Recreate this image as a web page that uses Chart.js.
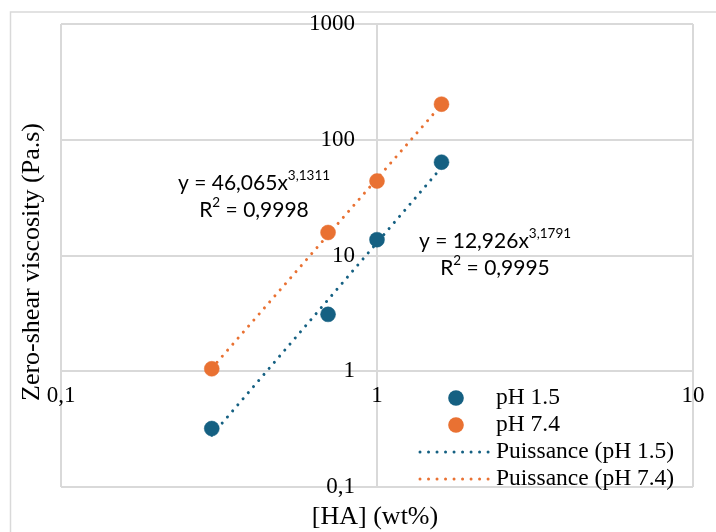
<!DOCTYPE html>
<html>
<head>
<meta charset="utf-8">
<script src="https://cdn.jsdelivr.net/npm/chart.js@4/dist/chart.umd.min.js"></script>
<style>
html, body { margin: 0; padding: 0; background: #ffffff; }
#wrap { width: 716px; height: 532px; position: relative; }
</style>
</head>
<body>
<div id="wrap"><canvas id="c" width="716" height="532"></canvas></div>
<script>
// ---- data ----
const concentrations = [0.3, 0.7, 1.0, 1.6];          // [HA] (wt%)
const viscosityPH15 = [0.32, 3.1, 13.7, 64];           // Pa.s
const viscosityPH74 = [1.05, 15.8, 44, 203];           // Pa.s
const trendX = [0.3, 1.6];                             // trend line end points (x)
const trendPH15 = [0.28, 57.6];                        // power fit pH 1.5 at those x
const trendPH74 = [1.06, 200.7];                       // power fit pH 7.4 at those x
const xTicks = [0.1, 1, 10];
const xTickLabels = ['0,1', '1', '10'];
const yTicks = [0.1, 1, 10, 100, 1000];
const yTickLabels = ['0,1', '1', '10', '100', '1000'];
const seriesNames = ['pH 1.5', 'pH 7.4', 'Puissance (pH 1.5)', 'Puissance (pH 7.4)'];
const xTitle = '[HA] (wt%)';
const yTitle = 'Zero-shear viscosity (Pa.s)';
const eqPH74 = [['y = 46,065x', '3,1311'], ['R', '2', ' = 0,9998']];
const eqPH15 = [['y = 12,926x', '3,1791'], ['R', '2', ' = 0,9995']];

const BLUE = '#156082';
const ORANGE = '#E97132';
const GRID = '#d9d9d9';
const SERIF = '"Liberation Serif", "Times New Roman", serif';
const SANS = 'Lato, "Open Sans", sans-serif';

const toPts = (xs, ys) => xs.map((x, i) => ({ x: x, y: ys[i] }));

const framePlugin = {
  id: 'frame',
  beforeDraw(chart) {
    const ctx = chart.ctx;
    ctx.save();
    ctx.fillStyle = '#ffffff';
    ctx.fillRect(0, 0, chart.width, chart.height);
    ctx.strokeStyle = GRID;
    ctx.lineWidth = 1.5;
    ctx.strokeRect(10.5, 12, 730, 540);
    ctx.restore();
  }
};

function drawRichLine(ctx, cx, cy, parts) {
  // parts alternate: normal, superscript, normal ...
  const fonts = parts.map((p, i) => (i % 2 === 0 ? '21px ' + SANS : '13.5px ' + SANS));
  let total = 0;
  const widths = parts.map((p, i) => { ctx.font = fonts[i]; const w = ctx.measureText(p).width; total += w; return w; });
  let x = cx - total / 2;
  parts.forEach((p, i) => {
    ctx.font = fonts[i];
    ctx.fillText(p, x, i % 2 === 0 ? cy : cy - 7);
    x += widths[i];
  });
}

const textPlugin = {
  id: 'texts',
  afterDraw(chart) {
    const ctx = chart.ctx;
    const sx = chart.scales.x;
    const sy = chart.scales.y;
    ctx.save();
    ctx.fillStyle = '#000000';
    ctx.textBaseline = 'middle';
    // y tick labels, placed through the y scale, left of the x = 1 axis
    ctx.font = '23px ' + SERIF;
    ctx.textAlign = 'right';
    const axisX = sx.getPixelForValue(1);
    yTicks.forEach((v, i) => ctx.fillText(yTickLabels[i], axisX - 22, sy.getPixelForValue(v)));
    ctx.textAlign = 'left';
    // equations
    drawRichLine(ctx, 254, 183, eqPH74[0]);
    drawRichLine(ctx, 254, 210, eqPH74[1]);
    drawRichLine(ctx, 495, 241, eqPH15[0]);
    drawRichLine(ctx, 495, 268, eqPH15[1]);
    // axis titles
    ctx.font = '26px ' + SERIF;
    ctx.textAlign = 'center';
    ctx.fillText(xTitle, 375, 517);
    ctx.save();
    ctx.translate(32, 262);
    ctx.rotate(-Math.PI / 2);
    ctx.fillText(yTitle, 0, 0);
    ctx.restore();
    // legend
    const rows = [398, 425, 452, 479];
    ctx.textAlign = 'left';
    chart.data.datasets.forEach((d, i) => {
      const y = rows[i];
      if (d.showLine) {
        ctx.save();
        ctx.strokeStyle = d.borderColor;
        ctx.lineWidth = 3;
        ctx.lineCap = 'round';
        ctx.setLineDash([0.01, 8.5]);
        ctx.beginPath();
        ctx.moveTo(420, y);
        ctx.lineTo(489, y);
        ctx.stroke();
        ctx.restore();
      } else {
        ctx.fillStyle = d.backgroundColor;
        ctx.beginPath();
        ctx.arc(456, y, 7.8, 0, Math.PI * 2);
        ctx.fill();
      }
      ctx.fillStyle = '#000000';
      ctx.font = '23.5px ' + SERIF;
      ctx.fillText(d.label, 496, y);
    });
    ctx.restore();
  }
};

new Chart(document.getElementById('c'), {
  type: 'scatter',
  data: {
    datasets: [
      { label: seriesNames[0], data: toPts(concentrations, viscosityPH15), backgroundColor: BLUE, borderColor: BLUE,
        pointRadius: 7.5, pointBorderWidth: 0.5, showLine: false, order: 0 },
      { label: seriesNames[1], data: toPts(concentrations, viscosityPH74), backgroundColor: ORANGE, borderColor: ORANGE,
        pointRadius: 7.5, pointBorderWidth: 0.5, showLine: false, order: 0 },
      { label: seriesNames[2], data: toPts(trendX, trendPH15), borderColor: BLUE, backgroundColor: BLUE,
        showLine: true, pointRadius: 0, borderWidth: 3, borderDash: [0.01, 8], borderCapStyle: 'round', order: 1 },
      { label: seriesNames[3], data: toPts(trendX, trendPH74), borderColor: ORANGE, backgroundColor: ORANGE,
        showLine: true, pointRadius: 0, borderWidth: 3, borderDash: [0.01, 8], borderCapStyle: 'round', order: 1 }
    ]
  },
  options: {
    responsive: false,
    animation: false,
    devicePixelRatio: 1,
    layout: { padding: { left: 61, top: 24, right: 23, bottom: 45 } },
    plugins: { legend: { display: false }, tooltip: { enabled: false } },
    scales: {
      x: {
        type: 'logarithmic', min: 0.1, max: 10, position: { y: 1 },
        afterBuildTicks: s => { s.ticks = xTicks.map(v => ({ value: v })); },
        afterFit: s => { s.paddingLeft = 0; s.paddingRight = 0; s.paddingTop = 0; s.paddingBottom = 0; },
        ticks: { autoSkip: false, maxRotation: 0, padding: 11, color: '#000000',
                 font: { family: SERIF, size: 23 }, callback: (v, i) => xTickLabels[i] },
        grid: { color: GRID, lineWidth: 2, drawTicks: false },
        border: { display: false }
      },
      y: {
        type: 'logarithmic', min: 0.1, max: 1000, position: { x: 1 },
        afterBuildTicks: s => { s.ticks = yTicks.map(v => ({ value: v })); },
        afterFit: s => { s.paddingLeft = 0; s.paddingRight = 0; s.paddingTop = 0; s.paddingBottom = 0; },
        ticks: { display: false, autoSkip: false },
        grid: { color: GRID, lineWidth: 2, drawTicks: false },
        border: { display: false }
      }
    }
  },
  plugins: [framePlugin, textPlugin]
});
</script>
</body>
</html>
